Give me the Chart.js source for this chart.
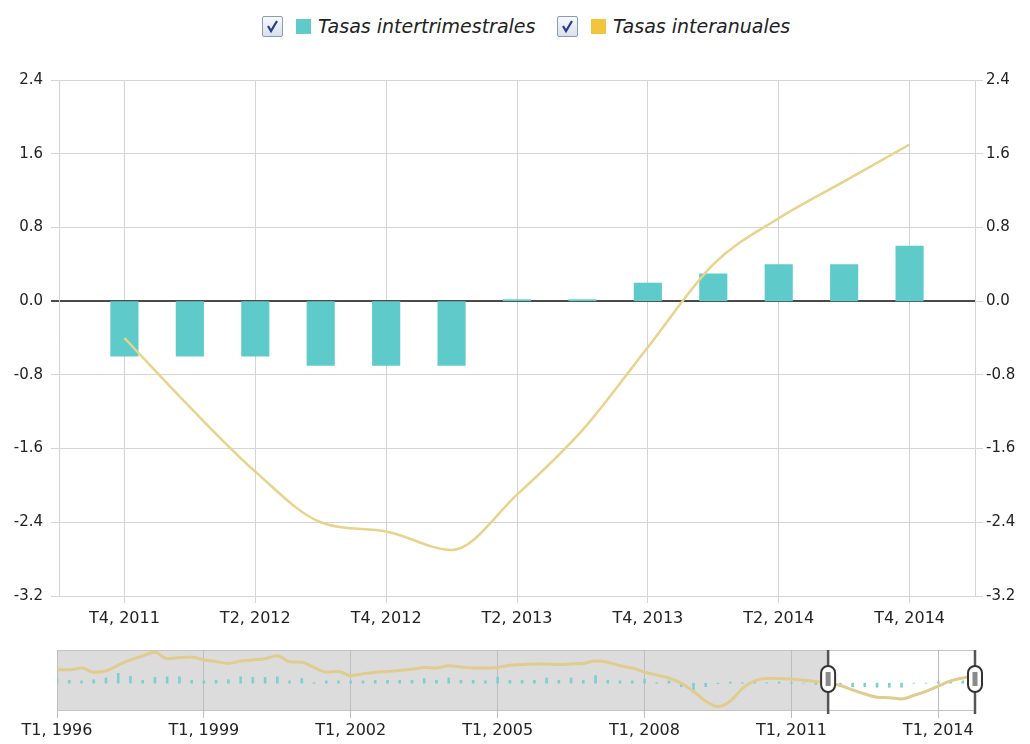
<!DOCTYPE html>
<html>
<head>
<meta charset="utf-8">
<script src="https://cdn.jsdelivr.net/npm/chart.js@4.4.1/dist/chart.umd.min.js"></script>
<style>
  html, body { margin: 0; padding: 0; background: #fff; }
  body { width: 1030px; height: 744px; position: relative; overflow: hidden;
         font-family: 'DejaVu Sans', Verdana, sans-serif; }
  .leg { position: absolute; top: 15px; height: 22px; display: flex; align-items: center; }
  .cb { width: 19px; height: 19px; border: 1px solid #8d9bb0; border-radius: 2px;
        background: linear-gradient(#f7f9fc, #d9e1ec); display: inline-block; }
  .sw { width: 15px; height: 15px; margin-left: 13px; display: inline-block; }
  .lt { margin-left: 7px; font-style: italic; font-size: 19px; color: #222; }
  #mainWrap { position: absolute; left: 0; top: 60px; }
  #navWrap  { position: absolute; left: 0; top: 640px; }
</style>
</head>
<body>

<div class="leg" style="left:262px">
  <span class="cb"><svg width="19" height="19"><polyline points="5,9 8,14 14,4" fill="none" stroke="#2b3a8c" stroke-width="2.2"/></svg></span>
  <span class="sw" style="background:#5fcaca"></span>
  <span class="lt">Tasas intertrimestrales</span>
</div>
<div class="leg" style="left:557px">
  <span class="cb"><svg width="19" height="19"><polyline points="5,9 8,14 14,4" fill="none" stroke="#2b3a8c" stroke-width="2.2"/></svg></span>
  <span class="sw" style="background:#f3c53f"></span>
  <span class="lt">Tasas interanuales</span>
</div>

<div id="mainWrap"><canvas id="main" width="1030" height="580"></canvas></div>
<div id="navWrap"><canvas id="nav" width="1030" height="104"></canvas></div>

<script>
// ── DATA (main view: T4 2011 – T4 2014) ──
const quarters = ['T4, 2011', 'T1, 2012', 'T2, 2012', 'T3, 2012', 'T4, 2012',
                  'T1, 2013', 'T2, 2013', 'T3, 2013', 'T4, 2013', 'T1, 2014',
                  'T2, 2014', 'T3, 2014', 'T4, 2014'];
const intertrimestral = [-0.6, -0.6, -0.6, -0.7, -0.7, -0.7, 0.02, 0.02,
                         0.2, 0.3, 0.4, 0.4, 0.6];
const interanual = [-0.4, -1.15, -1.85, -2.4, -2.5, -2.7, -2.1, -1.4,
                    -0.5, 0.4, 0.9, 1.3, 1.7];
const yTicks = { min: -3.2, max: 2.4, step: 0.8 };

// ── DATA (navigator history: T1 1996 – T3 2011) ──
const histInteranual = [
  2.3, 2.3, 2.6, 1.9, 2.1, 3.1, 4.0, 4.7, 5.3, 4.2, 4.4, 4.5,
  4.0, 3.7, 3.4, 3.8, 4.0, 4.2, 4.7, 3.7, 3.6, 2.7, 1.9, 2.0,
  1.3, 1.6, 1.9, 2.0, 2.2, 2.4, 2.7, 2.6, 3.0, 2.8, 2.6, 2.6,
  2.7, 3.1, 3.2, 3.3, 3.3, 3.2, 3.3, 3.4, 3.8, 3.6, 3.0, 2.6,
  1.9, 1.4, 0.9, 0.0, -1.4, -3.1, -4.0, -3.1, -0.9, 0.4, 0.8, 0.8,
  0.7, 0.5, 0.3, 0.1
];
const histIntertrimestral = [
  0.7, 0.5, 0.4, 0.6, 0.9, 1.7, 1.2, 0.5, 1.0, 1.1, 1.1, 0.5,
  0.4, 0.5, 0.6, 1.1, 1.0, 1.0, 1.1, 0.4, 0.8, 0.1, 0.4, 0.4,
  0.4, 0.4, 0.5, 0.5, 0.5, 0.5, 0.8, 0.5, 0.9, 0.5, 0.5, 0.4,
  1.0, 0.5, 0.5, 0.5, 0.9, 0.5, 0.9, 0.5, 1.3, 0.5, 0.4, 0.4,
  0.7, 0.1, 0.4, -0.6, -1.6, -0.6, -0.1, 0.2, 0.1, 0.3, 0.1, 0.2,
  0.1, 0.0, -0.2, -0.3
];
const navFirstYear = 1996;
const navLastYear  = 2014;

// ── COLORS ──
const COLORS = {
  bar:    '#5fcaca',
  navBar: '#7fcfcf',
  line:   '#e8d38c',
  navLine:'#e0cc8e',
  grid:   '#d4d4d4',
  zero:   '#4a4a4a',
  text:   '#222',
  shade:  '#dcdcdc',
};
const FONT = "'DejaVu Sans', Verdana, sans-serif";

// ── MAIN CHART ──
// one empty slot on each side, as in the original plot
const mainLabels = [''].concat(quarters, ['']);
const pad = arr => [null].concat(arr, [null]);

const isZero = v => Math.abs(v) < 1e-9;
const fmt = v => (isZero(v) ? 0 : v).toFixed(1);

new Chart(document.getElementById('main'), {
  data: {
    labels: mainLabels,
    datasets: [
      {
        type: 'line',
        label: 'Tasas interanuales',
        data: pad(interanual),
        borderColor: COLORS.line,
        borderWidth: 2.5,
        pointRadius: 0,
        cubicInterpolationMode: 'monotone',
        order: 0,
      },
      {
        type: 'bar',
        label: 'Tasas intertrimestrales',
        data: pad(intertrimestral),
        backgroundColor: COLORS.bar,
        barPercentage: 0.43,
        categoryPercentage: 1,
        order: 1,
      },
    ],
  },
  options: {
    responsive: false,
    animation: false,
    layout: { padding: { top: 20, left: 0, right: 0, bottom: 0 } },
    plugins: { legend: { display: false }, tooltip: { enabled: false } },
    scales: {
      x: {
        type: 'category',
        offset: false,
        afterFit: s => { s.height = 44; },
        border: { color: COLORS.grid },
        grid: {
          offset: false,
          color: c => (c.index % 2 === 1 ? COLORS.grid : 'transparent'),
          tickLength: 7,
        },
        ticks: {
          autoSkip: false,
          maxRotation: 0,
          padding: 6,
          color: COLORS.text,
          font: { family: FONT, size: 16 },
          callback: (v, i) => (i % 2 === 1 ? mainLabels[i] : ''),
        },
      },
      y: {
        position: 'left',
        min: yTicks.min,
        max: yTicks.max,
        afterFit: s => { s.width = 59; },
        border: { color: COLORS.grid },
        grid: {
          color: c => (isZero(c.tick.value) ? COLORS.zero : COLORS.grid),
          lineWidth: c => (isZero(c.tick.value) ? 2 : 1),
          tickLength: 8,
        },
        ticks: {
          stepSize: yTicks.step,
          padding: 8,
          color: COLORS.text,
          font: { family: FONT, size: 15 },
          callback: fmt,
        },
      },
      y1: {
        position: 'right',
        min: yTicks.min,
        max: yTicks.max,
        afterFit: s => { s.width = 55; },
        border: { color: COLORS.grid },
        grid: { drawOnChartArea: false, color: COLORS.grid, tickLength: 8 },
        ticks: {
          stepSize: yTicks.step,
          padding: 3,
          color: COLORS.text,
          font: { family: FONT, size: 15 },
          callback: fmt,
        },
      },
    },
  },
});

// ── NAVIGATOR ──
const navLabels = [];
for (let y = navFirstYear; y <= navLastYear; y++) {
  for (let q = 1; q <= 4; q++) navLabels.push('T' + q + ', ' + y);
}
const navInteranual = histInteranual.concat(interanual);
const navIntertrimestral = histIntertrimestral.concat(intertrimestral);
const selStart = navLabels.indexOf(quarters[0]);
const selEnd   = navLabels.indexOf(quarters[quarters.length - 1]);

function drawHandle(ctx, x, a) {
  ctx.strokeStyle = '#555';
  ctx.lineWidth = 2.5;
  ctx.beginPath();
  ctx.moveTo(x, a.top);
  ctx.lineTo(x, a.bottom + 4);
  ctx.stroke();

  const w = 14, h = 26, cy = a.top + 29;
  ctx.beginPath();
  ctx.roundRect(x - w / 2, cy - h / 2, w, h, 7);
  ctx.fillStyle = '#fff';
  ctx.fill();
  ctx.lineWidth = 2;
  ctx.strokeStyle = '#333';
  ctx.stroke();
  ctx.fillStyle = '#8a8a8a';
  ctx.fillRect(x - 2.5, cy - 7, 5, 14);
}

const navPlugin = {
  id: 'navPlugin',
  beforeDraw(chart) {
    const { ctx, chartArea: a, scales: { x } } = chart;
    const sx = x.getPixelForValue(selStart);
    const ex = x.getPixelForValue(selEnd);
    ctx.save();
    ctx.fillStyle = COLORS.shade;
    ctx.fillRect(a.left, a.top, sx - a.left, a.bottom - a.top);
    if (ex < a.right) ctx.fillRect(ex, a.top, a.right - ex, a.bottom - a.top);
    ctx.strokeStyle = '#c4c4c4';
    ctx.lineWidth = 1;
    ctx.strokeRect(a.left + 0.5, a.top + 0.5, a.right - a.left - 1, a.bottom - a.top);
    ctx.restore();
  },
  afterDraw(chart) {
    const { ctx, chartArea: a, scales: { x } } = chart;
    ctx.save();
    drawHandle(ctx, x.getPixelForValue(selStart), a);
    drawHandle(ctx, x.getPixelForValue(selEnd), a);
    ctx.restore();
  },
};

new Chart(document.getElementById('nav'), {
  data: {
    labels: navLabels,
    datasets: [
      {
        type: 'line',
        data: navInteranual,
        borderColor: COLORS.navLine,
        borderWidth: 3,
        pointRadius: 0,
        cubicInterpolationMode: 'monotone',
        order: 0,
      },
      {
        type: 'bar',
        data: navIntertrimestral,
        backgroundColor: COLORS.navBar,
        barThickness: 2,
        order: 1,
      },
    ],
  },
  options: {
    responsive: false,
    animation: false,
    layout: { padding: { top: 10, left: 57, right: 55, bottom: 0 } },
    plugins: { legend: { display: false }, tooltip: { enabled: false } },
    scales: {
      x: {
        type: 'category',
        offset: false,
        afterFit: s => { s.height = 34; },
        border: { display: false },
        grid: {
          offset: false,
          color: c => (c.index % 12 === 0 ? '#bdbdbd' : 'transparent'),
          tickLength: 8,
        },
        ticks: {
          autoSkip: false,
          maxRotation: 0,
          padding: 3,
          color: COLORS.text,
          font: { family: FONT, size: 16 },
          callback: (v, i) => (i % 12 === 0 ? navLabels[i] : ''),
        },
      },
      y: { display: false, min: -4.6, max: 5.7 },
    },
  },
  plugins: [navPlugin],
});
</script>
</body>
</html>
